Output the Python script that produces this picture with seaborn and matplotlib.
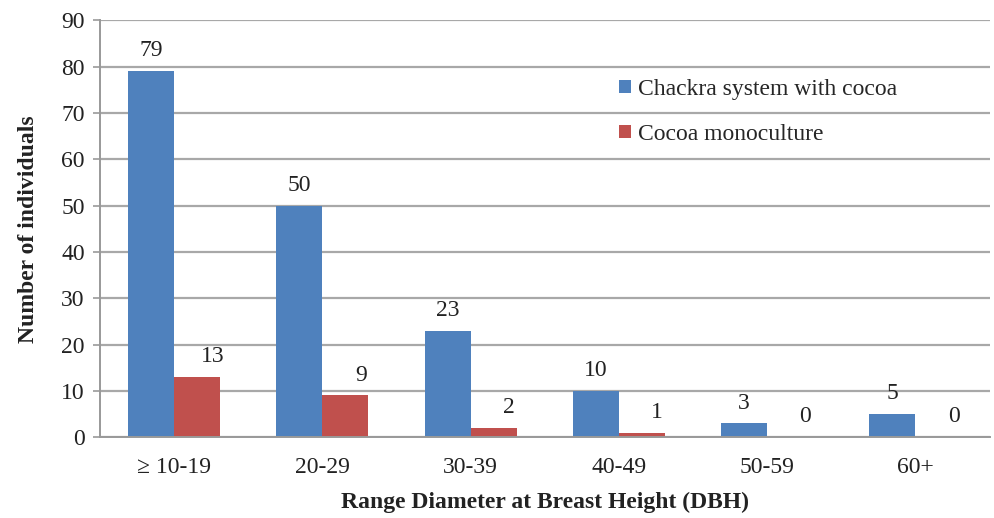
import matplotlib
matplotlib.use("Agg")
import matplotlib.pyplot as plt
import seaborn as sns
import pandas as pd

# data
categories = ["≥ 10-19", "20-29", "30-39", "40-49", "50-59", "60+"]
chackra = [79, 50, 23, 10, 3, 5]
mono = [13, 9, 2, 1, 0, 0]
series_names = ["Chackra system with cocoa", "Cocoa monoculture"]

df = pd.DataFrame({
    "dbh": categories * 2,
    "count": chackra + mono,
    "system": [series_names[0]] * len(categories) + [series_names[1]] * len(categories),
})

sns.set_style("white")
plt.rcParams["font.family"] = ["Liberation Serif", "DejaVu Serif"]

fig = plt.figure(figsize=(9.95, 5.18), dpi=100)
ax = fig.add_axes([0.1005, 0.156, 0.894, 0.805])

palette = {series_names[0]: "#4F81BD", series_names[1]: "#C0504D"}
sns.barplot(data=df, x="dbh", y="count", hue="system", palette=palette,
            width=0.62, saturation=1, linewidth=0, ax=ax, legend=True)

# value labels (red ones sit a bit to the right, as in the original)
for i, container in enumerate(ax.containers):
    for bar, v in zip(container, chackra if i == 0 else mono):
        dx = 0 if i == 0 else 11
        ax.annotate(str(v), (bar.get_x() + bar.get_width() / 2, bar.get_height()),
                    xytext=(dx, 7), textcoords="offset points",
                    ha="center", va="bottom", fontsize=17, color="#222222")

ax.set_ylim(0, 90)
ax.set_yticks(range(0, 91, 10))
ax.set_xlim(-0.5, len(categories) - 0.5)
ax.yaxis.grid(True, color="#a8a8a8", linewidth=1.6)
ax.set_axisbelow(True)
for s in ["top", "right"]:
    ax.spines[s].set_visible(False)
for s in ["left", "bottom"]:
    ax.spines[s].set_color("#999999")
    ax.spines[s].set_linewidth(1.4)
ax.tick_params(axis="y", direction="out", length=5, color="#999999", width=1.2,
               labelsize=17, labelcolor="#222222", left=True, pad=6)
ax.tick_params(axis="x", length=0, labelsize=17, labelcolor="#222222", pad=14)

ax.set_xlabel("Range Diameter at Breast Height (DBH)", fontsize=17,
              fontweight="bold", labelpad=10, color="#222222")
ax.set_ylabel("Number of individuals", fontsize=17, fontweight="bold",
              labelpad=16, color="#222222")

ax.legend(loc="center left", bbox_to_anchor=(0.56, 0.78), frameon=False,
          fontsize=17, handlelength=0.5, handleheight=0.5, handletextpad=0.3,
          labelspacing=1.0)

fig.savefig("out.png", dpi=100)
